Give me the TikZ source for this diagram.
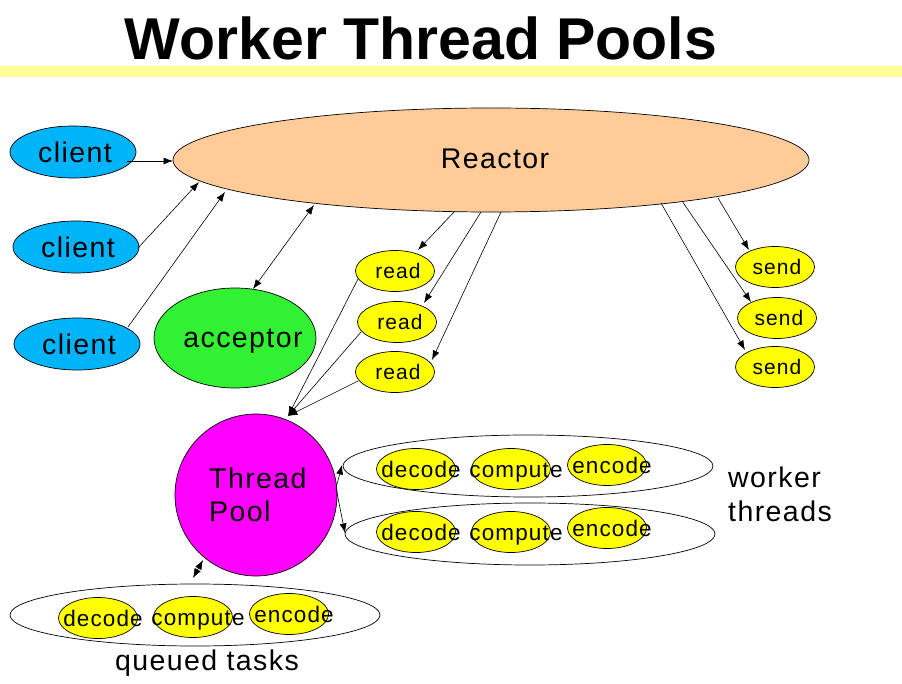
\documentclass[tikz,border=0pt]{standalone}
\usepackage{fontspec}
\setmainfont{Liberation Sans}
\newfontfamily\lblfont[LetterSpace=5]{Liberation Sans}
\usetikzlibrary{shapes.geometric,arrows.meta,calc}
\definecolor{bandyellow}{RGB}{255,255,153}
\definecolor{peach}{RGB}{255,204,153}
\definecolor{skyblue}{RGB}{0,180,250}
\definecolor{brightgreen}{RGB}{50,240,50}
\definecolor{taskyellow}{RGB}{255,255,0}
\definecolor{poolmagenta}{RGB}{255,0,255}
\tikzset{
  shp/.style={ellipse, draw=black, line width=0.7pt, inner sep=0pt},
  sz/.style 2 args={minimum width=#1pt, minimum height=#2pt},
  big/.style={inner sep=0pt, text depth=0pt, text height=20.5pt, font=\lblfont\fontsize{28.5}{33}\selectfont},
  small/.style={inner sep=0pt, text depth=0pt, text height=15pt, font=\lblfont\fontsize{21}{25}\selectfont},
  tasktext/.style={inner sep=0pt, text depth=0pt, text height=16pt, font=\lblfont\fontsize{22.5}{26}\selectfont},
  cl/.style={shp, fill=skyblue, sz={126}{52}},
  task/.style={shp, fill=taskyellow, sz={79}{41}},
  group/.style={shp, fill=white, sz={370}{62}},
  arr/.style={-{Latex[length=9.5pt,width=7pt]}, line width=0.6pt},
  darr/.style={{Latex[length=9.5pt,width=7pt]}-{Latex[length=9.5pt,width=7pt]}, line width=0.6pt}
}
\begin{document}
\begin{tikzpicture}[x=1pt,y=-1pt]
\useasboundingbox (0,0) rectangle (902,684);
\fill[white] (0,0) rectangle (902,684);
% title and band
\fill[bandyellow] (0,66) rectangle (902,77);
\node[anchor=base, inner sep=0pt, font=\bfseries\fontsize{59}{64}\selectfont] (title) at (421,60) {Worker Thread Pools};

% reactor
\node[shp, fill=peach, sz={636}{104}] (reactor) at (491,160) {};
\node[big] (reactort) at (495,158) {Reactor};

% clients
\node[cl] (c1) at (73,152) {};
\node[cl] (c2) at (76,247) {};
\node[cl] (c3) at (77,344) {};
\node[big] (c1t) at ($(c1)+(2,0)$) {client};
\node[big] (c2t) at ($(c2)+(2,0)$) {client};
\node[big] (c3t) at ($(c3)+(2,0)$) {client};

% acceptor
\node[shp, fill=brightgreen, sz={162}{100}] (acc) at (235,338) {};
\node[big] (acct) at (243,337) {acceptor};

% read nodes
\node[task] (r1) at (395,271) {};
\node[task] (r2) at (397,322) {};
\node[task] (r3) at (395,372) {};
\node[small] (r1t) at ($(r1)+(3,0)$) {read};
\node[small] (r2t) at ($(r2)+(3,0)$) {read};
\node[small] (r3t) at ($(r3)+(3,0)$) {read};

% send nodes
\node[task] (s1) at (775,267) {};
\node[task] (s2) at (777,318) {};
\node[task] (s3) at (775,367) {};
\node[small] (s1t) at ($(s1)+(2,0)$) {send};
\node[small] (s2t) at ($(s2)+(2,0)$) {send};
\node[small] (s3t) at ($(s3)+(2,0)$) {send};

% thread pool
\node[circle, draw=black, line width=0.7pt, fill=poolmagenta, minimum size=162pt, inner sep=0pt] (tp) at (256,495) {};
\node[anchor=north west, align=left, inner sep=0pt, font=\lblfont\fontsize{28.5}{33}\selectfont] (tpt) at (209,468) {Thread\\Pool};

% worker thread groups
\node[group] (w1) at (528,466) {};
\node[group] (w2) at (530,534) {};
\node[task] (w1d) at (416,469) {};
\node[task] (w1c) at (511,469) {};
\node[task] (w1e) at (607,465) {};
\node[task] (w2d) at (416,532) {};
\node[task] (w2c) at (511,532) {};
\node[task] (w2e) at (607,528) {};
\node[tasktext] (w1dt) at ($(w1d)+(5,0)$) {decode};
\node[tasktext] (w1ct) at ($(w1c)+(5,0)$) {compute};
\node[tasktext] (w1et) at ($(w1e)+(5,0)$) {encode};
\node[tasktext] (w2dt) at ($(w2d)+(5,0)$) {decode};
\node[tasktext] (w2ct) at ($(w2c)+(5,0)$) {compute};
\node[tasktext] (w2et) at ($(w2e)+(5,0)$) {encode};
\node[anchor=north west, align=left, inner sep=0pt, font=\lblfont\fontsize{28.5}{34}\selectfont] (wt) at (728,467) {worker\\threads};

% queued tasks
\node[group] (q) at (195,615) {};
\node[task] (qd) at (98,618) {};
\node[task] (qc) at (193,617) {};
\node[task] (qe) at (289,614) {};
\node[tasktext] (qdt) at ($(qd)+(5,0)$) {decode};
\node[tasktext] (qct) at ($(qc)+(5,0)$) {compute};
\node[tasktext] (qet) at ($(qe)+(5,0)$) {encode};
\node[anchor=base, inner sep=0pt, font=\lblfont\fontsize{28.5}{33}\selectfont] (qt) at (207,670) {queued tasks};

% connectors: clients and acceptor
\draw[arr] ($(c1)+(54,9)$) -- ($(reactor)+(-318,1)$);
\draw[arr] ($(c2)+(62,1)$) -- ($(reactor)+(-292,22)$);
\draw[arr] ($(c3)+(51,-17)$) -- ($(reactor)+(-266,32)$);
\draw[darr] ($(acc)+(18,-49)$) -- ($(reactor)+(-177,45)$);

% reactor to read
\draw[arr] ($(reactor)+(-36,51)$) -- ($(r1)+(23,-21)$);
\draw[arr] ($(reactor)+(-10,52)$) -- ($(r2)+(27,-19)$);
\draw[arr] ($(reactor)+(10,52)$) -- ($(r3)+(37,-12)$);

% reactor to send
\draw[arr] ($(reactor)+(227,38)$) -- ($(s1)+(-26,-17)$);
\draw[arr] ($(reactor)+(191,41)$) -- ($(s2)+(-26,-16)$);
\draw[arr] ($(reactor)+(170,43)$) -- ($(s3)+(-30,-17)$);

% read to thread pool
\draw[arr] ($(r1)+(-37,8)$) -- ($(tp)+(32,-79)$);
\draw[arr] ($(r2)+(-36,10)$) -- ($(tp)+(32,-79)$);
\draw[arr] ($(r3)+(-37,9)$) -- ($(tp)+(32,-79)$);

% thread pool to worker groups
\coordinate (tpr) at ($(tp)+(80,-7)$);
\draw[arr] (tpr) -- ($(w1)+(-186,-1)$);
\draw[arr] (tpr) -- ($(w2)+(-185,-1)$);

% thread pool to queue
\draw[darr] ($(q)+(-2,-37)$) -- ($(tp)+(-53,65)$);
\end{tikzpicture}
\end{document}
